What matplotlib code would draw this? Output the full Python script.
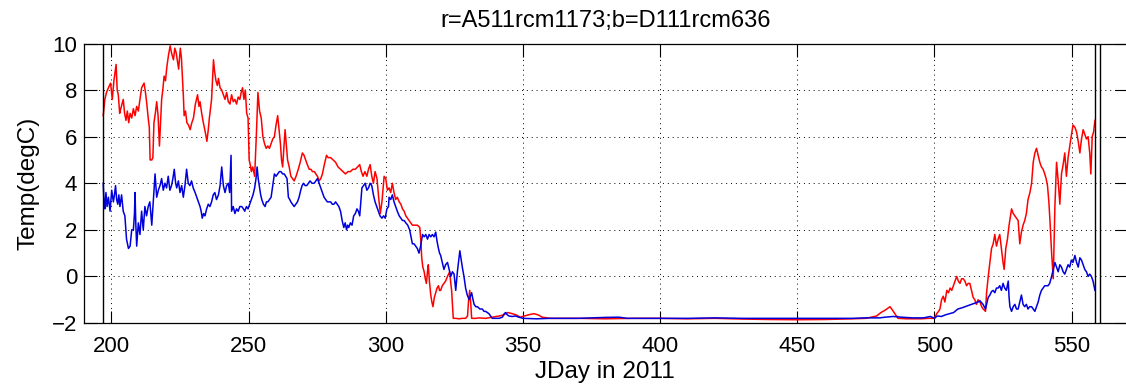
import matplotlib
matplotlib.use("Agg")
import matplotlib.pyplot as plt

# --- data (JDay, temperature degC) ---
red_day = [
    197.0, 197.6, 198.2, 198.9, 199.7, 200.3, 200.9, 201.7, 202.1, 202.5, 203.0, 203.4, 204.3, 204.8,
    205.3, 205.8, 206.3, 206.8, 207.4, 208.0, 208.6, 209.2, 209.8, 210.4, 211.0, 211.9, 212.4, 212.9,
    213.4, 213.8, 214.1, 214.7, 215.1, 215.5, 216.0, 216.5, 217.0, 217.5, 218.0, 218.3, 218.8, 219.2,
    219.7, 220.2, 220.8, 221.4, 221.9, 222.6, 223.1, 223.6, 224.1, 224.5, 225.1, 225.5, 225.8, 226.2,
    226.5, 227.0, 227.5, 228.1, 228.7, 229.3, 229.9, 230.6, 231.4, 231.9, 232.3, 232.9, 233.5, 234.2,
    234.8, 235.3, 235.7, 236.5, 237.2, 237.6, 238.1, 238.6, 239.0, 239.6, 240.2, 240.8, 241.4, 242.0,
    242.6, 243.2, 243.8, 244.4, 245.0, 245.6, 246.2, 246.8, 247.3, 247.8, 248.3, 248.8, 249.3, 249.8,
    250.2, 250.6, 251.0, 251.5, 252.2, 252.8, 253.4, 254.0, 254.6, 255.2, 255.8, 256.4, 257.0, 257.6,
    258.2, 258.8, 259.4, 260.0, 260.6, 261.1, 261.6, 262.0, 262.4, 262.9, 263.3, 263.8, 264.2, 264.8,
    265.4, 266.0, 266.6, 267.3, 268.1, 268.8, 269.6, 270.2, 270.8, 271.4, 272.1, 272.7, 273.3, 274.0,
    274.5, 275.1, 275.7, 276.3, 276.9, 277.6, 278.4, 279.0, 279.9, 280.8, 281.7, 282.6, 283.5, 284.4,
    285.3, 286.2, 287.1, 288.0, 288.9, 289.7, 290.5, 291.1, 291.7, 292.4, 293.1, 293.7, 294.3, 294.9,
    295.5, 296.1, 296.8, 297.4, 298.0, 298.6, 299.4, 300.0, 300.6, 301.2, 301.8, 302.4, 303.0, 303.6,
    304.2, 304.9, 305.5, 306.1, 306.7, 307.3, 307.9, 308.5, 309.1, 309.7, 310.6, 311.5, 312.4, 312.8,
    313.1, 313.5, 314.0, 314.4, 314.8, 315.2, 315.5, 315.9, 316.4, 316.8, 317.2, 317.7, 318.2, 318.7,
    319.2, 319.6, 320.0, 320.6, 321.2, 321.8, 322.5, 323.3, 323.7, 324.0, 324.3, 324.6, 325.5, 326.7,
    327.9, 329.1, 329.8, 330.2, 330.6, 331.0, 331.3, 332.8, 334.0, 336.4, 338.8, 341.3, 343.0, 344.5,
    346.1, 347.5, 349.0, 350.5, 352.0, 354.0, 355.5, 357.0, 360.0, 370.0, 380.0, 390.0, 400.0, 410.0,
    420.0, 430.0, 440.0, 450.0, 460.0, 470.0, 475.0, 478.9, 480.5, 482.0, 483.8, 485.0, 486.7, 490.0,
    495.0, 498.0, 500.0, 500.8, 501.5, 502.0, 502.6, 503.2, 503.8, 504.5, 505.1, 505.7, 506.3, 506.9,
    507.5, 508.1, 508.7, 509.3, 509.9, 510.5, 511.1, 511.7, 512.3, 512.9, 513.5, 514.1, 514.7, 515.3,
    515.9, 516.6, 517.2, 517.8, 518.6, 519.0, 519.6, 520.2, 520.8, 521.4, 522.0, 522.6, 523.2, 523.8,
    524.4, 525.0, 525.4, 526.0, 526.6, 527.2, 528.1, 528.7, 529.3, 529.9, 530.5, 531.1, 531.7, 532.3,
    532.9, 533.5, 534.1, 534.8, 535.4, 536.0, 536.6, 537.2, 537.8, 538.4, 539.0, 539.6, 540.2, 540.7,
    541.2, 541.7, 542.1, 542.7, 543.3, 543.9, 544.5, 545.1, 545.7, 546.3, 546.9, 547.5, 548.1, 548.7,
    549.2, 549.7, 550.5, 551.2, 551.8, 552.4, 553.0, 553.6, 554.2, 554.8, 555.4, 556.0, 556.6, 557.0,
    557.5, 558.0, 558.5,
]
red_temp = [
    6.9, 7.6, 7.9, 8.1, 8.3, 7.6, 8.4, 9.1, 8.0, 7.8, 7.0, 7.2, 7.6, 7.0,
    6.7, 7.1, 6.6, 7.0, 6.8, 7.2, 6.9, 7.3, 7.1, 7.6, 8.1, 8.3, 7.9, 7.4,
    6.8, 6.4, 5.0, 5.0, 5.1, 6.6, 7.0, 7.5, 6.9, 5.6, 6.8, 7.6, 8.1, 8.6,
    8.4, 9.0, 9.5, 9.9, 9.6, 9.3, 9.8, 9.6, 9.2, 8.9, 9.8, 9.4, 8.7, 7.8,
    6.9, 7.1, 6.6, 6.5, 6.3, 6.6, 6.8, 7.4, 7.8, 7.3, 7.5, 7.0, 6.6, 6.2,
    5.8, 6.3, 6.8, 7.6, 9.3, 8.8, 8.4, 8.2, 8.5, 8.1, 8.0, 7.8, 7.6, 7.9,
    7.5, 7.4, 7.8, 7.5, 7.6, 7.4, 7.7, 7.6, 7.9, 8.1, 7.6, 8.0, 7.0, 6.8,
    5.0, 4.8, 4.5, 4.7, 4.3, 6.0, 7.9, 7.1, 6.8, 6.0, 5.7, 5.5, 5.6, 5.5,
    5.7, 5.9, 6.0, 6.5, 6.9, 6.3, 5.7, 5.0, 4.7, 5.6, 6.3, 5.6, 5.0, 4.7,
    4.3, 4.2, 4.1, 4.3, 4.6, 4.9, 5.3, 5.2, 5.0, 4.8, 4.6, 4.6, 4.5, 4.5,
    4.4, 4.3, 4.1, 4.2, 4.4, 4.8, 5.2, 5.1, 5.1, 5.0, 4.9, 4.7, 4.6, 4.5,
    4.4, 4.5, 4.5, 4.6, 4.6, 4.7, 4.8, 4.5, 4.3, 4.5, 4.3, 4.6, 4.8, 4.3,
    4.0, 4.5, 4.2, 3.4, 2.7, 3.2, 4.3, 4.2, 3.7, 3.8, 3.6, 4.0, 3.6, 3.3,
    3.4, 3.2, 3.1, 2.9, 2.8, 2.6, 2.5, 2.4, 2.3, 2.2, 2.2, 2.2, 2.1, 1.5,
    0.8, 0.4, 0.2, -0.1, -0.3, 0.2, 0.5, -0.2, -0.8, -1.1, -1.3, -0.9, -0.7, -0.5,
    -0.4, -0.6, -0.6, -0.4, -0.3, -0.2, 0.0, 0.2, -0.3, -0.6, -1.2, -1.8, -1.8, -1.82,
    -1.8, -1.8, -1.7, -1.0, -0.6, -1.2, -1.8, -1.8, -1.78, -1.8, -1.75, -1.7, -1.65, -1.55,
    -1.6, -1.65, -1.75, -1.7, -1.65, -1.6, -1.65, -1.75, -1.8, -1.8, -1.82, -1.8, -1.8, -1.82,
    -1.8, -1.83, -1.85, -1.86, -1.85, -1.82, -1.8, -1.7, -1.55, -1.45, -1.3, -1.5, -1.8, -1.82,
    -1.82, -1.8, -1.8, -1.6, -1.5, -1.4, -1.0, -0.85, -1.1, -0.6, -0.7, -0.5, -0.6, -0.4,
    -0.2, 0.0, -0.2, -0.3, -0.1, -0.1, -0.2, -0.4, -0.3, -0.3, -0.6, -0.9, -1.0, -1.2,
    -1.0, -1.1, -1.3, -1.4, -1.5, -0.7, 0.0, 0.6, 1.2, 1.4, 1.8, 1.3, 1.6, 1.8,
    1.2, 0.6, 0.3, 1.2, 1.6, 2.2, 2.9, 2.7, 2.6, 2.5, 2.4, 1.4, 1.9, 2.2,
    2.4, 2.7, 3.3, 3.6, 4.0, 4.9, 5.3, 5.5, 5.2, 4.9, 4.7, 4.6, 4.4, 4.2,
    3.9, 3.2, 2.4, 1.0, -0.1, 3.0, 4.9, 4.1, 3.1, 4.4, 4.8, 5.3, 4.3, 5.1,
    5.5, 5.9, 6.5, 6.4, 6.2, 5.8, 5.3, 5.9, 6.3, 6.1, 5.9, 6.0, 5.3, 4.4,
    6.0, 6.2, 6.7,
]

blue_day = [
    197.0, 197.3, 197.6, 198.0, 198.4, 198.9, 199.5, 200.1, 200.7, 201.1, 201.5, 201.9, 202.3, 202.7,
    203.1, 203.7, 204.3, 204.9, 205.5, 206.2, 206.8, 207.4, 208.0, 208.4, 208.6, 208.9, 209.2, 209.8,
    210.4, 211.0, 211.6, 212.2, 212.8, 213.4, 214.0, 214.7, 215.3, 215.9, 216.5, 217.1, 217.7, 218.3,
    218.9, 219.5, 220.1, 220.7, 221.3, 221.9, 222.4, 222.9, 223.4, 223.8, 224.4, 225.0, 225.6, 226.2,
    226.8, 227.4, 228.0, 228.6, 229.2, 229.8, 230.5, 231.1, 231.7, 232.3, 232.7, 233.1, 233.6, 234.1,
    234.7, 235.3, 235.9, 236.5, 237.1, 237.7, 238.3, 239.0, 239.6, 240.2, 240.8, 241.4, 242.0, 242.6,
    243.1, 243.6, 243.8, 244.4, 245.0, 245.6, 246.2, 246.8, 247.5, 248.1, 248.6, 249.2, 249.8, 250.4,
    251.0, 251.6, 252.2, 252.7, 253.1, 253.5, 254.0, 254.4, 254.8, 255.4, 256.0, 256.5, 257.0, 257.6,
    258.2, 258.8, 259.4, 260.0, 260.6, 261.2, 261.8, 262.4, 263.0, 263.5, 264.0, 264.5, 265.0, 265.4,
    266.0, 266.6, 267.2, 267.8, 268.4, 269.0, 269.5, 270.0, 270.6, 271.2, 271.8, 272.4, 273.1, 273.9,
    274.5, 275.1, 275.7, 276.3, 276.9, 277.5, 278.1, 278.7, 279.3, 279.9, 280.5, 281.1, 281.7, 282.3,
    282.9, 283.5, 284.1, 284.7, 285.2, 285.7, 286.1, 286.5, 287.1, 287.7, 288.3, 288.9, 289.5, 290.0,
    290.5, 290.9, 291.3, 291.9, 292.5, 293.1, 293.7, 294.3, 294.9, 295.5, 296.1, 296.7, 297.3, 297.9,
    298.6, 299.2, 299.8, 300.4, 301.0, 301.2, 301.8, 302.4, 303.0, 303.6, 304.2, 304.9, 305.5, 306.1,
    306.7, 307.3, 308.0, 308.7, 309.2, 309.7, 310.3, 310.9, 311.5, 312.1, 312.7, 313.4, 314.0, 314.6,
    315.2, 315.8, 316.4, 317.0, 317.6, 318.2, 318.7, 319.2, 319.6, 320.0, 320.6, 321.2, 321.8, 322.5,
    323.1, 323.7, 324.3, 324.9, 325.5, 326.1, 326.7, 327.0, 327.5, 327.9, 328.5, 329.1, 329.7, 330.4,
    331.0, 331.3, 331.8, 332.2, 332.8, 333.4, 334.3, 335.2, 335.8, 336.4, 337.0, 337.6, 338.2, 338.8,
    340.1, 341.3, 342.5, 343.2, 343.7, 344.3, 344.9, 346.1, 347.3, 348.5, 350.0, 355.0, 360.0, 370.0,
    375.0, 380.0, 385.0, 388.0, 395.0, 400.0, 410.0, 420.0, 430.0, 440.0, 450.0, 460.0, 470.0, 475.0,
    480.0, 482.0, 485.0, 488.0, 492.0, 496.0, 498.5, 500.0, 501.0, 502.5, 504.0, 505.5, 507.0, 508.5,
    510.0, 511.1, 512.3, 513.5, 514.7, 515.9, 516.6, 517.7, 518.6, 519.6, 520.2, 520.8, 521.4, 522.0,
    522.6, 523.2, 523.8, 524.4, 525.0, 525.6, 526.2, 526.9, 527.2, 527.5, 528.1, 528.7, 529.3, 529.9,
    530.5, 531.1, 531.7, 532.3, 532.9, 533.5, 534.1, 534.7, 535.4, 536.0, 536.6, 537.2, 537.8, 538.4,
    539.0, 539.6, 540.2, 540.8, 541.4, 542.0, 542.7, 543.3, 543.9, 544.5, 545.1, 545.7, 546.3, 546.9,
    547.5, 548.1, 548.7, 549.3, 549.9, 550.5, 551.2, 551.8, 552.4, 553.0, 553.6, 554.2, 554.8, 555.4,
    556.0, 556.6, 557.2, 557.8, 558.5,
]
blue_temp = [
    4.0, 3.2, 2.9, 3.6, 3.0, 3.4, 2.8, 3.7, 3.2, 3.5, 3.9, 3.3, 3.1, 3.5,
    3.0, 3.5, 2.8, 2.6, 1.6, 1.2, 1.3, 2.0, 2.0, 2.7, 3.6, 2.2, 1.3, 2.3,
    1.8, 2.8, 2.0, 3.0, 2.6, 3.0, 3.2, 2.2, 3.3, 4.4, 3.4, 3.7, 3.9, 4.2,
    3.7, 4.0, 3.8, 4.3, 3.7, 3.9, 4.2, 4.6, 4.0, 3.8, 4.1, 3.6, 3.9, 3.4,
    3.9, 4.6, 4.0, 3.9, 4.1, 3.8, 3.6, 3.4, 3.2, 3.0, 2.8, 2.5, 2.7, 2.6,
    2.9, 3.1, 3.0, 3.2, 3.5, 3.6, 3.3, 3.5, 3.9, 4.7, 3.9, 3.6, 3.9, 4.0,
    3.6, 5.2, 2.8, 3.0, 2.7, 2.9, 2.8, 3.0, 3.0, 2.9, 2.8, 3.0, 2.9, 3.1,
    3.3, 3.5, 3.8, 4.2, 4.7, 4.2, 3.8, 3.5, 3.3, 3.1, 3.0, 3.2, 3.2, 3.3,
    3.4, 3.9, 4.4, 4.3, 4.4, 4.5, 4.5, 4.4, 4.4, 4.3, 4.2, 3.4, 3.3, 3.2,
    3.1, 3.0, 3.1, 3.2, 3.4, 3.7, 3.9, 4.0, 3.9, 3.9, 4.0, 4.1, 4.0, 4.0,
    4.1, 4.2, 4.0, 3.8, 3.6, 3.4, 3.3, 3.2, 3.2, 3.2, 3.1, 3.1, 3.2, 3.1,
    3.0, 2.8, 2.4, 2.1, 2.3, 2.0, 2.2, 2.1, 2.3, 2.2, 2.6, 2.7, 2.9, 2.8,
    2.6, 3.2, 3.8, 3.9, 4.0, 3.7, 3.8, 4.0, 3.9, 3.5, 3.2, 3.0, 2.8, 2.6,
    2.5, 2.6, 2.5, 2.9, 3.0, 3.4, 3.3, 3.5, 3.2, 3.0, 2.8, 2.6, 2.5, 2.4,
    2.4, 2.3, 2.2, 2.0, 1.7, 1.4, 1.4, 1.3, 1.2, 1.0, 1.3, 1.8, 1.7, 1.8,
    1.6, 1.8, 1.7, 1.8, 1.7, 1.9, 1.5, 1.2, 1.0, 0.9, 0.6, 0.3, 0.5, 0.6,
    0.3, 0.0, 0.2, 0.1, -0.6, 0.2, 0.8, 1.1, 0.7, 0.4, 0.0, -0.5, -0.8, -1.0,
    -0.8, -0.7, -1.0, -1.2, -1.3, -1.3, -1.4, -1.4, -1.5, -1.5, -1.55, -1.6, -1.7, -1.8,
    -1.8, -1.8, -1.75, -1.6, -1.55, -1.65, -1.7, -1.72, -1.7, -1.75, -1.8, -1.82, -1.8, -1.8,
    -1.78, -1.76, -1.75, -1.8, -1.8, -1.8, -1.8, -1.78, -1.8, -1.8, -1.8, -1.8, -1.8, -1.78,
    -1.78, -1.75, -1.72, -1.75, -1.78, -1.78, -1.72, -1.8, -1.7, -1.72, -1.65, -1.6, -1.55, -1.4,
    -1.35, -1.3, -1.25, -1.2, -1.15, -1.1, -1.05, -1.2, -1.4, -0.9, -0.8, -0.65, -0.6, -0.7,
    -0.5, -0.5, -0.4, -0.6, -0.3, -0.5, -0.6, -0.2, -0.9, -1.3, -1.5, -1.3, -1.2, -1.4,
    -1.4, -1.1, -0.8, -1.2, -1.3, -1.2, -1.4, -1.3, -1.3, -1.4, -1.5, -1.3, -1.1, -0.8,
    -0.6, -0.5, -0.4, -0.4, -0.4, -0.3, 0.0, 0.3, 0.6, 0.4, 0.2, 0.5, 0.4, 0.2,
    0.1, 0.3, 0.5, 0.4, 0.7, 0.6, 0.9, 0.6, 0.4, 0.8, 0.7, 0.5, 0.3, 0.2,
    0.0, 0.1, 0.0, -0.2, -0.6,
]

# record start / end markers
marker_days = [197.0, 558.5, 560.3]

xticks = [200, 250, 300, 350, 400, 450, 500, 550]
yticks = [-2, 0, 2, 4, 6, 8, 10]

plt.rcParams["font.family"] = ["Liberation Sans", "DejaVu Sans"]

fig = plt.figure(figsize=(11.26, 3.92), dpi=100)
ax = fig.add_axes([84 / 1126, 69 / 392, 1042.5 / 1126, 279.5 / 392])

ax.plot(red_day, red_temp, color="#ff0000", lw=1.1, zorder=3)
ax.plot(blue_day, blue_temp, color="#0000dd", lw=1.1, zorder=3)
for d in marker_days:
    ax.axvline(d, color="black", lw=1.0, zorder=4)

ax.set_xlim(190, 570)
ax.set_ylim(-2, 10)
ax.set_xticks(xticks)
ax.set_yticks(yticks)
ax.grid(True, color="black", linestyle=(0, (1, 4)), lw=0.7)
ax.set_axisbelow(True)

ax.tick_params(direction="in", length=9, width=0.8, top=True, right=True,
               labelsize=16)
ax.tick_params(axis="x", pad=9)
ax.tick_params(axis="y", pad=5)
for s in ax.spines.values():
    s.set_linewidth(0.9)

ax.set_title("r=A511rcm1173;b=D111rcm636", fontsize=17, pad=12)
ax.set_xlabel("JDay in 2011", fontsize=17.5, labelpad=3)
ax.set_ylabel("Temp(degC)", fontsize=17.5, labelpad=9)

fig.savefig("out.png", dpi=100)
